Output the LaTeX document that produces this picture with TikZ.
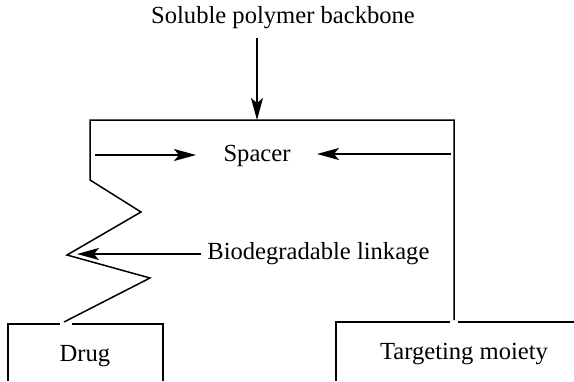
\documentclass[tikz,border=0pt]{standalone}
\usepackage{fontspec}
\setmainfont{Liberation Serif}
\usetikzlibrary{arrows.meta}
\begin{document}
\begin{tikzpicture}[x=0.5pt,y=-0.5pt,
  line/.style={line width=0.75pt, line join=miter},
  arr/.style={line, -{Stealth[length=11pt,width=6pt,inset=2.5pt]}},
  lbl/.style={font=\fontsize{12.3}{14}\selectfont, inner sep=0pt}]
\useasboundingbox (0,0) rectangle (574,381);
% labels
\node[lbl] (title) at (283,18) {Soluble polymer backbone};
\node[lbl] (spacer) at (257,156) {Spacer};
\node[lbl, anchor=west] (bio) at (207,254) {Biodegradable linkage};
\node[lbl] (drug) at (85,356) {Drug};
\node[lbl] (target) at (464,354) {Targeting moiety};
% key points of the backbone
\coordinate (topL) at (90,120);
\coordinate (topR) at (454,120);
\coordinate (attach) at (257,120);
\coordinate (zz) at (67,255);
\coordinate (drugEnd) at (64,322);
\coordinate (tgtEnd) at (454,320);
\coordinate (spL) at (95,155);
\coordinate (spLtip) at (196,155);
\coordinate (spR) at (451,154);
\coordinate (spRtip) at (317,154);
% backbone with zig-zag linkage
\draw[line] (drugEnd) -- (150,278) -- (zz) -- (141,212) -- (90,180)
  -- (topL) -- (topR) -- (tgtEnd);
% drug box (open at the bottom, gap where the linkage meets it)
\draw[line] (8,381) -- (8,324) -- (60,324);
\draw[line] (72,324) -- (163,324) -- (163,381);
% targeting moiety box
\draw[line] (336,381) -- (336,322) -- (450,322);
\draw[line] (458,322) -- (574,322);
% arrows
\draw[arr] (title.south -| attach) ++(0,8) -- (attach);
\draw[arr] (spL) -- (spLtip);
\draw[arr] (spR) -- (spRtip);
\draw[arr] (bio.west) ++(-6,0) -- (77,254);
\end{tikzpicture}
\end{document}
